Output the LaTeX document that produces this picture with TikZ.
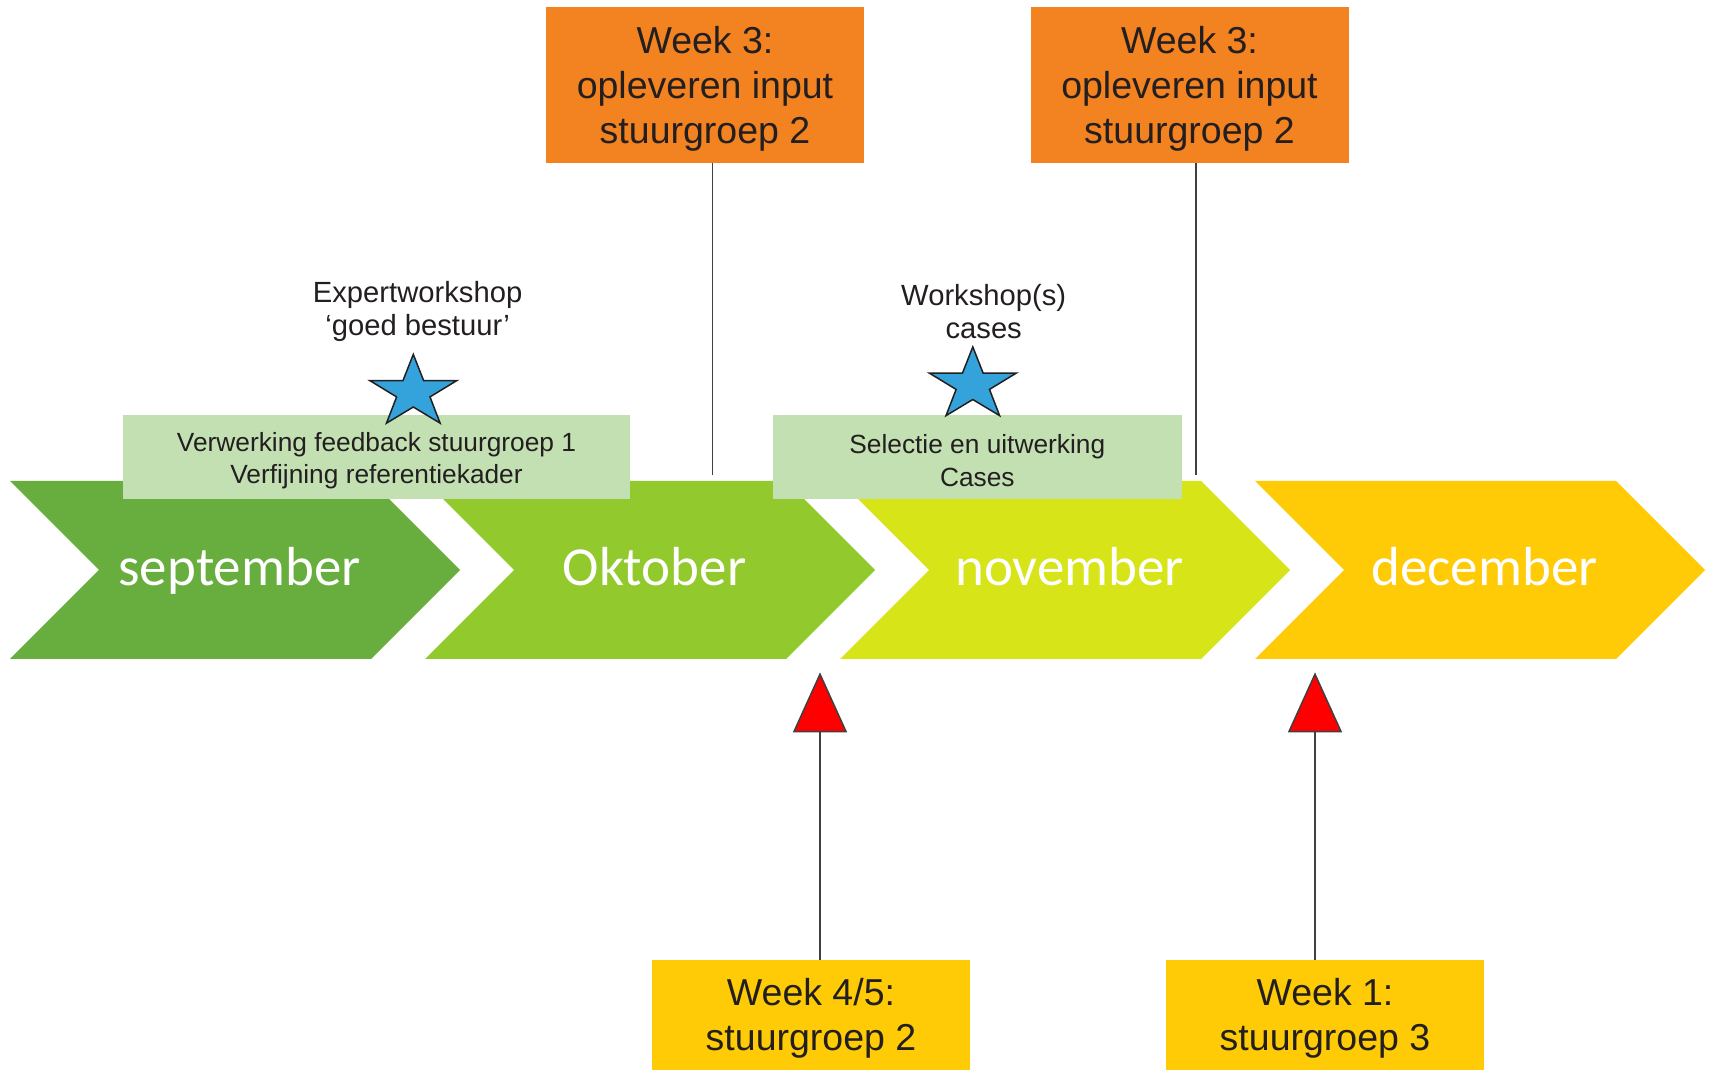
\documentclass[tikz,border=0pt]{standalone}
\usepackage{fontspec}
\setmainfont{Liberation Sans}
\newfontfamily\monthfont{Carlito}
\usetikzlibrary{arrows.meta,shapes.geometric}
\definecolor{ink}{HTML}{231F20}
\definecolor{lineg}{HTML}{404040}
\definecolor{sepgreen}{HTML}{67AE3E}
\definecolor{octgreen}{HTML}{92C92C}
\definecolor{novlime}{HTML}{D6E418}
\definecolor{decyellow}{HTML}{FECB06}
\definecolor{weekorange}{HTML}{F38221}
\definecolor{taskgreen}{HTML}{C2E0B2}
\definecolor{starblue}{HTML}{34A3DC}

\begin{document}
\begin{tikzpicture}[x=1pt,y=1pt,
    month/.style={text=white,font=\monthfont\fontsize{55}{66}\selectfont,anchor=base,inner sep=0pt},
    weekbox/.style={minimum width=318pt,align=center,inner sep=0pt,text=ink,font=\fontsize{37.5}{45}\selectfont},
    task/.style={fill=taskgreen,minimum width=#1,minimum height=84pt,align=center,inner sep=0pt,text=ink,font=\fontsize{26.3}{32.7}\selectfont},
    event/.style={align=center,inner sep=0pt,text=ink,font=\fontsize{29.2}{33.3}\selectfont},
    starmark/.style={star,star points=5,star point ratio=2.6,minimum size=76pt,inner sep=0pt,fill=starblue,draw=ink,line width=1.5pt,xscale=1.2,transform shape},
    link/.style={draw=lineg,line width=1.5pt},
    flag/.style={link,-{Triangle[length=60pt,width=54pt,fill=red]}}]
    \useasboundingbox (0,0) rectangle (1710,1069);
    % months
    \foreach \x/\name/\col [count=\i] in {10/september/sepgreen,425/Oktober/octgreen,840/november/novlime,1255/december/decyellow}{
        \fill[\col] (\x,588) -- ++(361,0) -- ++(89,-89) -- ++(-89,-89) -- ++(-361,0) -- ++(89,89) -- cycle;
        \node[month] (m\i) at (\x+229.5,483) {\name};
    }
    % deadlines
    \node[weekbox,fill=weekorange,minimum height=156pt] (o1) at (705,984.3) {\rule{0pt}{35pt}Week 3:\\opleveren input\\stuurgroep 2};
    \node[weekbox,fill=weekorange,minimum height=156pt] (o2) at (1189.5,984.3) {\rule{0pt}{35pt}Week 3:\\opleveren input\\stuurgroep 2};
    \coordinate (c1) at (712.5,593.5);
    \coordinate (c2) at (1196,593.5);
    \draw[link] (o1.south -| c1) -- (c1);
    \draw[link] (o2.south -| c2) -- (c2);
    % tasks
    \node[task=507pt] (g1) at (376.5,611.6) {\rule{0pt}{25.7pt}Verwerking feedback stuurgroep 1\\Verfijning referentiekader};
    \node[task=409pt] (g2) at (977.3,611.6) {\rule{0pt}{25.7pt}Selectie en uitwerking\\Cases};
    % workshops
    \node[event] (e1) at (417.6,757.3) {Expertworkshop\\‘goed bestuur’};
    \node[event] (e2) at (983.7,757.3) {Workshop(s)\\cases};
    \node[starmark] (s1) at (413.3,676.6) {};
    \node[starmark] (s2) at (972.8,684.1) {};
    % stuurgroepen
    \node[weekbox,fill=decyellow,minimum height=116pt,anchor=north] (y1) at (811,109) {Week 4/5:\\stuurgroep 2};
    \node[weekbox,fill=decyellow,minimum height=116pt,anchor=north] (y2) at (1325,109) {Week 1:\\stuurgroep 3};
    \coordinate (f1) at (820,396.7);
    \coordinate (f2) at (1315,396.7);
    \draw[flag] (y1.north -| f1) -- (f1);
    \draw[flag] (y2.north -| f2) -- (f2);
\end{tikzpicture}
\end{document}
